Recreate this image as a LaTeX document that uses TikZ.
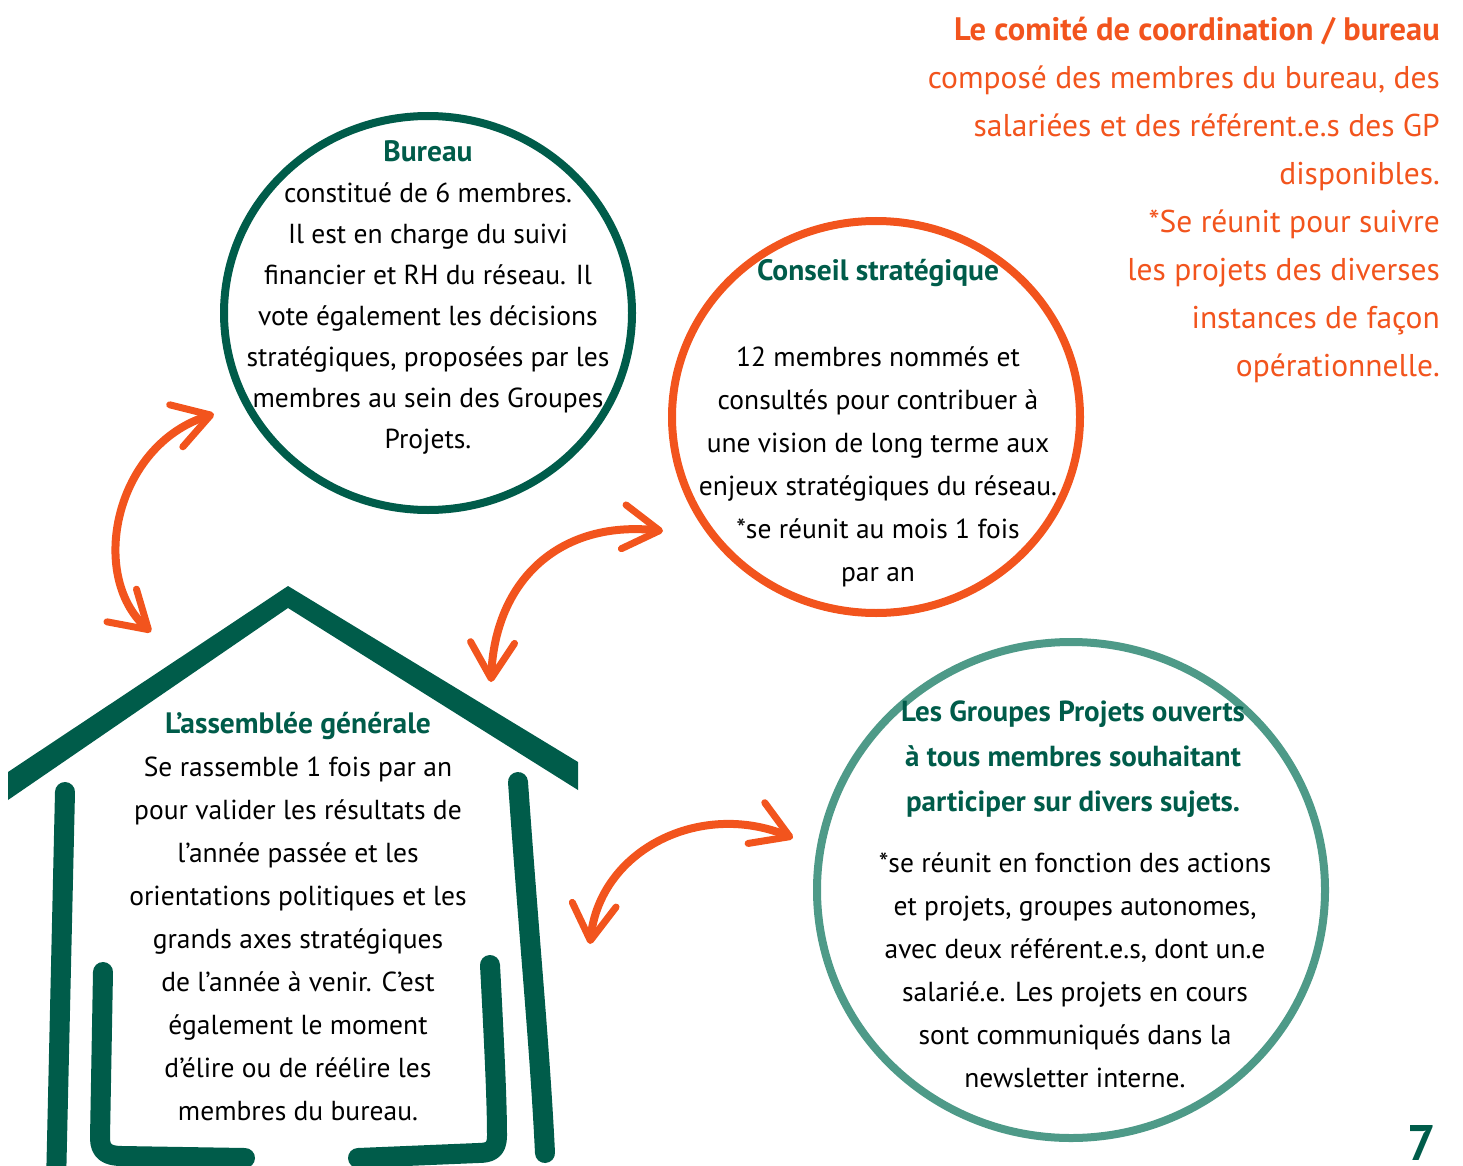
\documentclass[tikz,border=0pt]{standalone}
\usepackage{fontspec}
\setmainfont{PT Sans}
\usetikzlibrary{arrows.meta}
\definecolor{dgreen}{HTML}{005C4A}
\definecolor{orng}{HTML}{F2541D}
\definecolor{teal}{HTML}{4E9A88}
\newcommand{\ttlfont}{\bfseries\fontsize{29.5}{43}\selectfont}
\tikzset{
  mybarb/.tip={Straight Barb[length=36pt,width=44pt,line width=7pt,round]},
  body/.style={align=center, text=black, font=\fontsize{27.5}{43}\selectfont, inner sep=0pt},
  ring/.style={line width=8pt},
  dbl/.style={draw=orng, line width=8pt, line cap=round, {mybarb}-{mybarb}},
  wall/.style={draw=dgreen, line width=20pt, line cap=round, line join=round}
}
\begin{document}
\begin{tikzpicture}[x=1pt,y=-1pt]
\useasboundingbox (0,0) rectangle (1463,1166);
% circles
\draw[ring, dgreen] (428,313) ellipse (204 and 197);
\draw[ring, orng] (876,417) ellipse (204 and 196);
\draw[ring, teal] (1071,890) ellipse (254 and 248);
% house
\fill[dgreen] (8,772) -- (288,586) -- (578,762) -- (578,790) -- (288,608) -- (8,800) -- cycle;
\draw[wall] (65,792) -- (56,1185);
\draw[wall] (518,782) .. controls (530,950) and (540,1050) .. (545,1153);
\draw[wall] (103,972) -- (100,1138) .. controls (100,1152) and (108,1156) .. (122,1156) -- (245,1158);
\draw[wall] (490,965) .. controls (494,1040) and (497,1100) .. (497,1136) .. controls (497,1150) and (490,1153) .. (478,1153) -- (358,1158);
% texts
\node[body, font=\fontsize{27.5}{41}\selectfont] (bureau) at (428,297.5) {{\ttlfont\color{dgreen}Bureau}\\constitué de 6 membres.\\Il est en charge du suivi\\financier et RH du réseau. Il\\vote également les décisions\\stratégiques, proposées par les\\membres au sein des Groupes\\Projets.};
\node[body] (conseil) at (878,423) {{\ttlfont\color{dgreen}Conseil stratégique}\\[43pt]12 membres nommés et\\consultés pour contribuer à\\une vision de long terme aux\\enjeux stratégiques du réseau.\\*se réunit au mois 1 fois\\par an};
\node[body, font=\bfseries\fontsize{29}{45}\selectfont, text=dgreen] (gptitle) at (1073,759) {Les Groupes Projets ouverts\\à tous membres souhaitant\\participer sur divers sujets.};
\node[body] (gpbody) at (1075,970.5) {*se réunit en fonction des actions\\et projets, groupes autonomes,\\avec deux référent.e.s, dont un.e\\salarié.e. Les projets en cours\\sont communiqués dans la\\newsletter interne.};
\node[body] (ag) at (298,917) {{\ttlfont\color{dgreen}L’assemblée générale}\\Se rassemble 1 fois par an\\pour valider les résultats de\\l’année passée et les\\orientations politiques et les\\grands axes stratégiques\\de l’année à venir. C’est\\également le moment\\d’élire ou de réélire les\\membres du bureau.};
\node[body, align=right, anchor=east, text=orng, font=\fontsize{31.5}{48}\selectfont] (comite) at (1440,199.5) {{\bfseries\fontsize{32.5}{48}\selectfont Le comité de coordination / bureau}\\composé des membres du bureau, des\\salariées et des référent.e.s des GP\\disponibles.\\*Se réunit pour suivre\\les projets des diverses\\instances de façon\\opérationnelle.};
\node[text=dgreen, font=\bfseries\fontsize{50}{52}\selectfont, inner sep=0pt, anchor=base] (page) at (1422,1160) {7};
% arrows
\coordinate (a1s) at (214,414);
\coordinate (a1e) at (151,632);
\coordinate (a2s) at (663,531);
\coordinate (a2e) at (491,682);
\coordinate (a3s) at (793,838);
\coordinate (a3e) at (590,944);
\draw[dbl] (a1s) .. controls (115,445) and (88,575) .. (a1e);
\draw[dbl] (a2s) .. controls (560,520) and (495,580) .. (a2e);
\draw[dbl] (a3s) .. controls (700,800) and (600,850) .. (a3e);
\end{tikzpicture}
\end{document}
